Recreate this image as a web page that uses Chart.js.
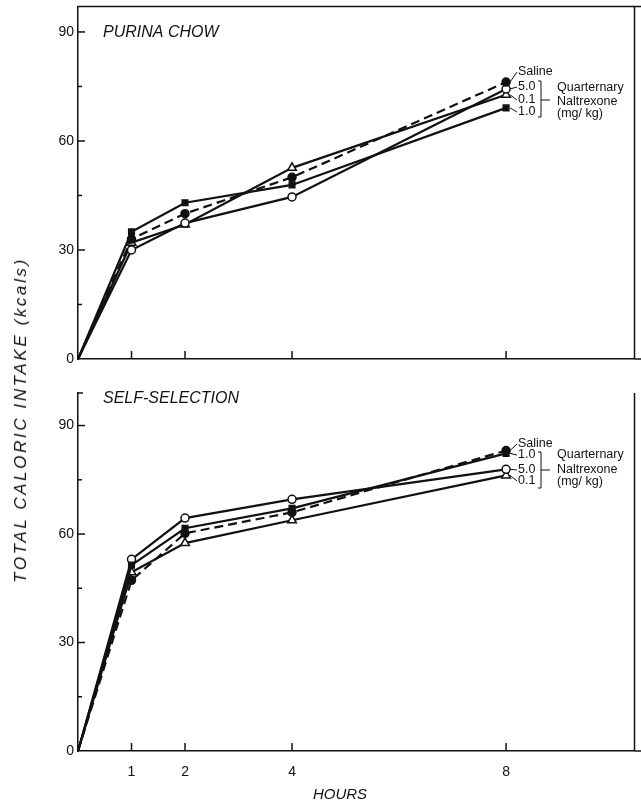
<!DOCTYPE html>
<html>
<head>
<meta charset="utf-8">
<script src="https://cdn.jsdelivr.net/npm/chart.js@4.4.1/dist/chart.umd.min.js"></script>
<style>
  html, body { margin: 0; padding: 0; background: #fff; }
  #wrap { position: relative; width: 641px; height: 806px; overflow: hidden; }
  canvas { position: absolute; left: 0; }
  #top { top: 0; }
  #bottom { top: 372px; }
  .ytitle {
    position: absolute; left: 21px; top: 420px;
    transform: translate(-50%, -50%) rotate(-90deg);
    font: italic 17px 'Liberation Sans', sans-serif;
    letter-spacing: 2.6px; white-space: nowrap; color: #111;
  }
</style>
</head>
<body>
<div id="wrap">
  <canvas id="top" width="641" height="372"></canvas>
  <canvas id="bottom" width="641" height="434"></canvas>
  <div class="ytitle">TOTAL CALORIC INTAKE (kcals)</div>
</div>
<script>
// x values (hours) and axis ticks
const hours = [0, 1, 2, 4, 8];
const xTicks = [1, 2, 4, 8];
const yTicks = [0, 15, 30, 45, 60, 75, 90];

// Purina chow panel (kcal)
const chowSaline = [0, 33, 40, 50, 76.2];
const chowQ50 = [0, 30, 37.4, 44.6, 74.3];
const chowQ01 = [0, 32, 37, 52.6, 72.7];
const chowQ10 = [0, 35, 43, 47.9, 69.1];

// Self-selection panel (kcal)
const selfSaline = [0, 47.2, 60.2, 66, 83.1];
const selfQ10 = [0, 51.4, 61.6, 67.1, 82.3];
const selfQ50 = [0, 53, 64.4, 69.6, 77.9];
const selfQ01 = [0, 49.4, 57.5, 63.8, 76.2];

const INK = '#111';
const labelFont = "12.5px 'Liberation Sans', sans-serif";

function series(label, values, style) {
  return Object.assign({
    label: label,
    data: hours.map((h, i) => ({ x: h, y: values[i] })),
    borderColor: INK,
    borderWidth: 2.2,
    pointRadius: hours.map(h => (h === 0 ? 0 : 4)),
    pointBorderColor: INK,
    pointBorderWidth: 1.5,
    tension: 0,
    clip: false,
  }, style);
}

const salineStyle = { borderDash: [9, 5], pointStyle: 'circle', pointBackgroundColor: INK };
const q50Style = { pointStyle: 'circle', pointBackgroundColor: '#fff' };
const q01Style = { pointStyle: 'triangle', pointBackgroundColor: '#fff', pointRadius: hours.map(h => (h === 0 ? 0 : 5)) };
const q10Style = { pointStyle: 'rect', pointBackgroundColor: INK };

// draws inward ticks, frame, panel title and the end-of-line labels
const deco = {
  id: 'deco',
  afterDraw(chart, args, o) {
    const { ctx, chartArea: a, scales: { x, y } } = chart;
    const line = (x1, y1, x2, y2) => { ctx.beginPath(); ctx.moveTo(x1, y1); ctx.lineTo(x2, y2); ctx.stroke(); };
    ctx.save();
    ctx.strokeStyle = INK;
    ctx.lineWidth = 1.5;

    yTicks.forEach(v => {
      if (v === 0) return;
      const py = y.getPixelForValue(v);
      line(a.left, py, a.left + (v % 30 === 0 ? 7 : 4), py);
    });
    xTicks.forEach(v => {
      const px = x.getPixelForValue(v);
      line(px, a.bottom, px, a.bottom - 8);
    });

    if (o.boxTop) line(a.left, a.top, 641, a.top);
    else line(a.left, a.top, a.left + 5, a.top);
    line(a.right, a.top, a.right, a.bottom);
    line(a.right, a.bottom, 641, a.bottom);

    ctx.fillStyle = INK;
    ctx.font = "italic 16px 'Liberation Sans', sans-serif";
    ctx.textBaseline = 'middle';
    ctx.fillText(o.title, 103, o.titleY);
    if (o.xTitle) {
      ctx.font = "italic 15px 'Liberation Sans', sans-serif";
      ctx.textAlign = 'center';
      ctx.fillText(o.xTitle, 340, 423);
      ctx.textAlign = 'left';
    }

    // labels beside the 8 h points
    ctx.font = labelFont;
    ctx.lineWidth = 1;
    const px8 = x.getPixelForValue(8);
    o.ends.forEach(e => {
      const py = y.getPixelForValue(e.value);
      ctx.fillText(e.text, 518, e.y);
      line(px8 + 4, py, 517, e.y);
    });
    const b = o.bracket;
    line(538, b.top, 541, b.top);
    line(541, b.top, 541, b.bottom);
    line(538, b.bottom, 541, b.bottom);
    line(541, b.mid, 550, b.mid);
    ctx.fillText('Quarternary', 557, b.q[0]);
    ctx.fillText('Naltrexone', 557, b.q[1]);
    ctx.fillText('(mg/ kg)', 557, b.q[2]);
    ctx.restore();
  }
};

function makeChart(id, datasets, opts) {
  return new Chart(document.getElementById(id).getContext('2d'), {
    type: 'line',
    data: { datasets: datasets },
    options: {
      responsive: false,
      animation: false,
      layout: { padding: { top: opts.padTop, right: 6, left: 0, bottom: 0 } },
      plugins: { legend: { display: false }, tooltip: { enabled: false }, deco: opts.deco },
      scales: {
        x: {
          type: 'linear', min: 0, max: 10.4,
          afterBuildTicks: s => { s.ticks = xTicks.map(v => ({ value: v })); },
          afterFit: s => { s.height = opts.xHeight; s.paddingLeft = 0; s.paddingRight = 0; },
          grid: { drawOnChartArea: false, drawTicks: false },
          border: { color: INK, width: 1.5 },
          ticks: { display: opts.xLabels, padding: 13, color: INK, font: { family: 'Liberation Sans', size: 14 } },
        },
        y: {
          min: 0, max: opts.yMax,
          afterBuildTicks: s => { s.ticks = yTicks.map(v => ({ value: v })); },
          afterFit: s => { s.width = 78; s.paddingTop = 0; s.paddingBottom = 0; },
          grid: { drawOnChartArea: false, drawTicks: false },
          border: { color: INK, width: 1.5 },
          ticks: { padding: 4, color: INK, font: { family: 'Liberation Sans', size: 14 },
            callback: v => (v % 30 === 0 ? String(v) : '') },
        },
      },
    },
    plugins: [deco],
  });
}

makeChart('top', [
  series('Saline', chowSaline, salineStyle),
  series('5.0', chowQ50, q50Style),
  series('0.1', chowQ01, q01Style),
  series('1.0', chowQ10, q10Style),
], {
  padTop: 6, xHeight: 13, yMax: 97, xLabels: false,
  deco: {
    boxTop: true, title: 'PURINA CHOW', titleY: 33,
    ends: [
      { text: 'Saline', y: 72, value: chowSaline[4] },
      { text: '5.0', y: 87, value: chowQ50[4] },
      { text: '0.1', y: 100, value: chowQ01[4] },
      { text: '1.0', y: 112, value: chowQ10[4] },
    ],
    bracket: { top: 81, bottom: 117, mid: 100, q: [88, 102, 114] },
  },
});

makeChart('bottom', [
  series('Saline', selfSaline, salineStyle),
  series('1.0', selfQ10, q10Style),
  series('5.0', selfQ50, q50Style),
  series('0.1', selfQ01, q01Style),
], {
  padTop: 21, xHeight: 55, yMax: 99, xLabels: true,
  deco: {
    boxTop: false, title: 'SELF-SELECTION', titleY: 27, xTitle: 'HOURS',
    ends: [
      { text: 'Saline', y: 72, value: selfSaline[4] },
      { text: '1.0', y: 83, value: selfQ10[4] },
      { text: '5.0', y: 98, value: selfQ50[4] },
      { text: '0.1', y: 109, value: selfQ01[4] },
    ],
    bracket: { top: 80, bottom: 116, mid: 98, q: [83, 98, 110] },
  },
});
</script>
</body>
</html>
